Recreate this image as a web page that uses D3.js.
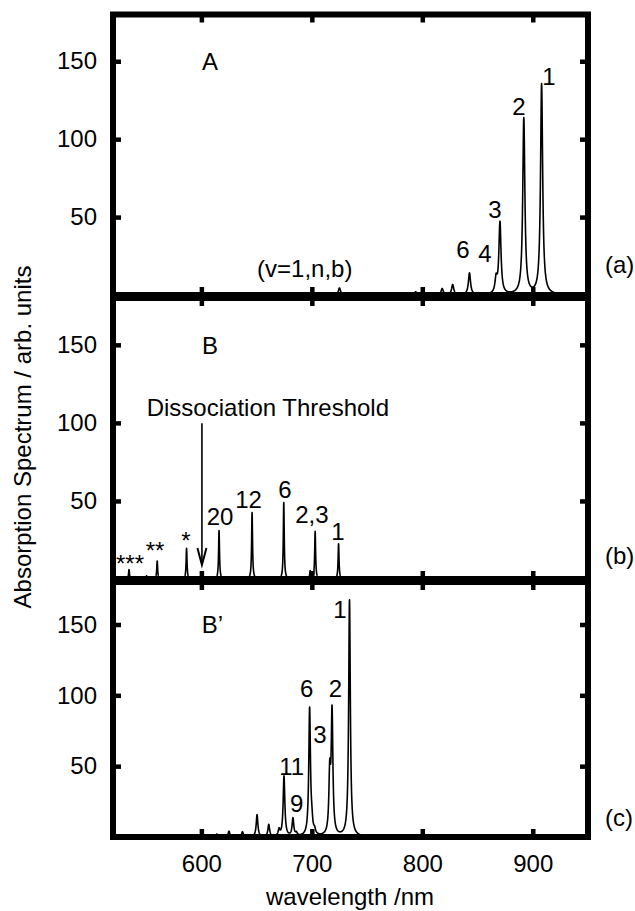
<!DOCTYPE html>
<html>
<head>
<meta charset="utf-8">
<script src="https://cdn.jsdelivr.net/npm/d3@7"></script>
<style>
  body { margin: 0; background: #fff; }
  text { font-family: "Liberation Sans", Arial, sans-serif; font-size: 24px; fill: #000; }
</style>
</head>
<body>
<svg width="635" height="911"></svg>
<script>
// peak lists: [wavelength nm, height]
var peaksA = [[908.0, 135], [891.9, 113], [870.3, 46], [866.8, 9], [842.7, 14],
              [827.5, 6.5], [818.0, 4], [794.0, 2], [725.0, 4.5]];
var peaksB = [[534.5, 6], [550.4, 2], [560.0, 11.5], [586.6, 19.6], [616.0, 31],
              [645.9, 42.5], [674.6, 49], [698.5, 5], [703.0, 30.5], [724.2, 22.5]];
var peaksC = [[734.1, 167], [718.3, 86], [716.2, 41], [698.0, 90], [700.0, 7],
              [702.5, 3], [686.0, 2], [682.9, 12.5], [674.8, 42.5], [670.3, 4.5],
              [661.0, 8.5], [650.4, 15.5], [637.2, 3.5], [625.0, 4], [614.0, 2]];

// peak labels: [text, wavelength, value, anchor]
var labelsA = [["A", 607.8, 144.2, "middle"], ["1", 914.7, 134.6, "middle"],
               ["2", 887.5, 115.4, "middle"], ["3", 865.8, 49.2, "middle"],
               ["6", 836.8, 23.5, "middle"], ["4", 856.7, 21.3, "middle"],
               ["(v=1,n,b)", 650.4, 11.5, "start"]];
var labelsB = [["B", 607.8, 144.2, "middle"], ["Dissociation Threshold", 550.5, 104.2, "start"],
               ["***", 535.4, 4.5, "middle"], ["**", 558.0, 12.8, "middle"],
               ["*", 586.1, 19.2, "middle"], ["20", 616.9, 34.6, "middle"],
               ["12", 642.7, 45.5, "middle"], ["6", 675.7, 51.9, "middle"],
               ["2,3", 700.1, 35.6, "middle"], ["1", 723.7, 25, "middle"]];
var labelsC = [["B\u2019", 600.3, 144, "start"], ["1", 725.5, 154.6, "middle"],
               ["6", 695.3, 98.8, "middle"], ["2", 721.4, 98.8, "middle"],
               ["3", 707.4, 66.3, "middle"], ["11", 681.8, 43.8, "middle"],
               ["9", 686.3, 17.9, "middle"]];

var xTicks = [600, 700, 800, 900];
var yTicks = [50, 100, 150];
var threshold = [600.5, 99.8, 9];  // arrow: wavelength, from value, to value

var svg = d3.select("svg");

var x = d3.scaleLinear().domain([520, 950]).range([113, 588]);

var panels = [
  {peaks: peaksA, labels: labelsA, gamma: 1.15, top: 14.5, bottom: 295, tag: "(a)", tagY: 273},
  {peaks: peaksB, labels: labelsB, gamma: 0.5, top: 298, bottom: 579, tag: "(b)", tagY: 564},
  {peaks: peaksC, labels: labelsC, gamma: 0.9, top: 582, bottom: 837, tag: "(c)", tagY: 826}
];

var grid = d3.range(520, 950.001, 0.05);

// sum of lorentzian lines
function spectrum(peaks, g) {
  return grid.map(function(w) {
    var s = 0;
    peaks.forEach(function(p) {
      var d = w - p[0];
      s += p[1] * g * g / (d * d + g * g);
    });
    return [w, s];
  });
}

panels.forEach(function(p, i) {
  var y = d3.scaleLinear().domain([0, 180]).range([p.bottom, p.top]);
  var g = svg.append("g");

  g.append("clipPath").attr("id", "clip" + i)
    .append("rect")
    .attr("x", x.range()[0]).attr("y", p.top)
    .attr("width", x.range()[1] - x.range()[0])
    .attr("height", p.bottom - p.top);

  var line = d3.line()
      .x(function(d) { return x(d[0]); })
      .y(function(d) { return y(Math.min(d[1], 182)); });

  g.append("path")
    .datum(spectrum(p.peaks, p.gamma))
    .attr("clip-path", "url(#clip" + i + ")")
    .attr("fill", "none")
    .attr("stroke", "#000")
    .attr("stroke-width", 1.6)
    .attr("stroke-linejoin", "round")
    .attr("d", line);

  // inward ticks on all four sides
  var axes = [
    [d3.axisLeft(y).tickValues(yTicks).tickSize(-8).tickPadding(16), x.range()[0], 0, true],
    [d3.axisRight(y).tickValues(yTicks).tickSize(-8).tickFormat(""), x.range()[1], 0, false],
    [d3.axisTop(x).tickValues(xTicks).tickSize(-8).tickFormat(""), 0, p.top, false],
    [d3.axisBottom(x).tickValues(xTicks).tickSize(-8).tickPadding(18)
       .tickFormat(i === 2 ? d3.format("d") : ""), 0, p.bottom, i === 2]
  ];
  axes.forEach(function(a) {
    var ax = g.append("g")
      .attr("transform", "translate(" + a[1] + "," + a[2] + ")")
      .call(a[0]);
    ax.select(".domain").remove();
    ax.selectAll("line").attr("stroke-width", 4.5);
    ax.selectAll("text").attr("font-size", null).style("font-size", "24px")
      .style("font-family", '"Liberation Sans", Arial, sans-serif');
    ax.attr("font-size", null).attr("font-family", null);
  });

  g.append("rect")
    .attr("x", x.range()[0]).attr("y", p.top)
    .attr("width", x.range()[1] - x.range()[0])
    .attr("height", p.bottom - p.top)
    .attr("fill", "none")
    .attr("stroke", "#000")
    .attr("stroke-width", 6);

  g.selectAll(".lbl")
    .data(p.labels)
    .enter().append("text")
    .attr("class", "lbl")
    .attr("x", function(d) { return x(d[1]); })
    .attr("y", function(d) { return y(d[2]); })
    .attr("text-anchor", function(d) { return d[3]; })
    .text(function(d) { return d[0]; });

  g.append("text")
    .attr("x", 605)
    .attr("y", p.tagY)
    .text(p.tag);

  if (i === 1) {
    var ax0 = x(threshold[0]), y0 = y(threshold[1]), y1 = y(threshold[2]);
    g.append("line")
      .attr("x1", ax0).attr("x2", ax0)
      .attr("y1", y0).attr("y2", y1)
      .attr("stroke", "#000").attr("stroke-width", 1.6);
    g.append("path")
      .attr("d", "M" + (ax0 - 4.5) + "," + (y1 - 17) + "L" + ax0 + "," + y1 + "L" + (ax0 + 4.5) + "," + (y1 - 17))
      .attr("fill", "none").attr("stroke", "#000").attr("stroke-width", 2);
  }
});

svg.append("text")
  .attr("transform", "translate(31,437) rotate(-90)")
  .attr("text-anchor", "middle")
  .text("Absorption Spectrum / arb. units");

svg.append("text")
  .attr("x", 350)
  .attr("y", 905)
  .attr("text-anchor", "middle")
  .text("wavelength /nm");
</script>
</body>
</html>
